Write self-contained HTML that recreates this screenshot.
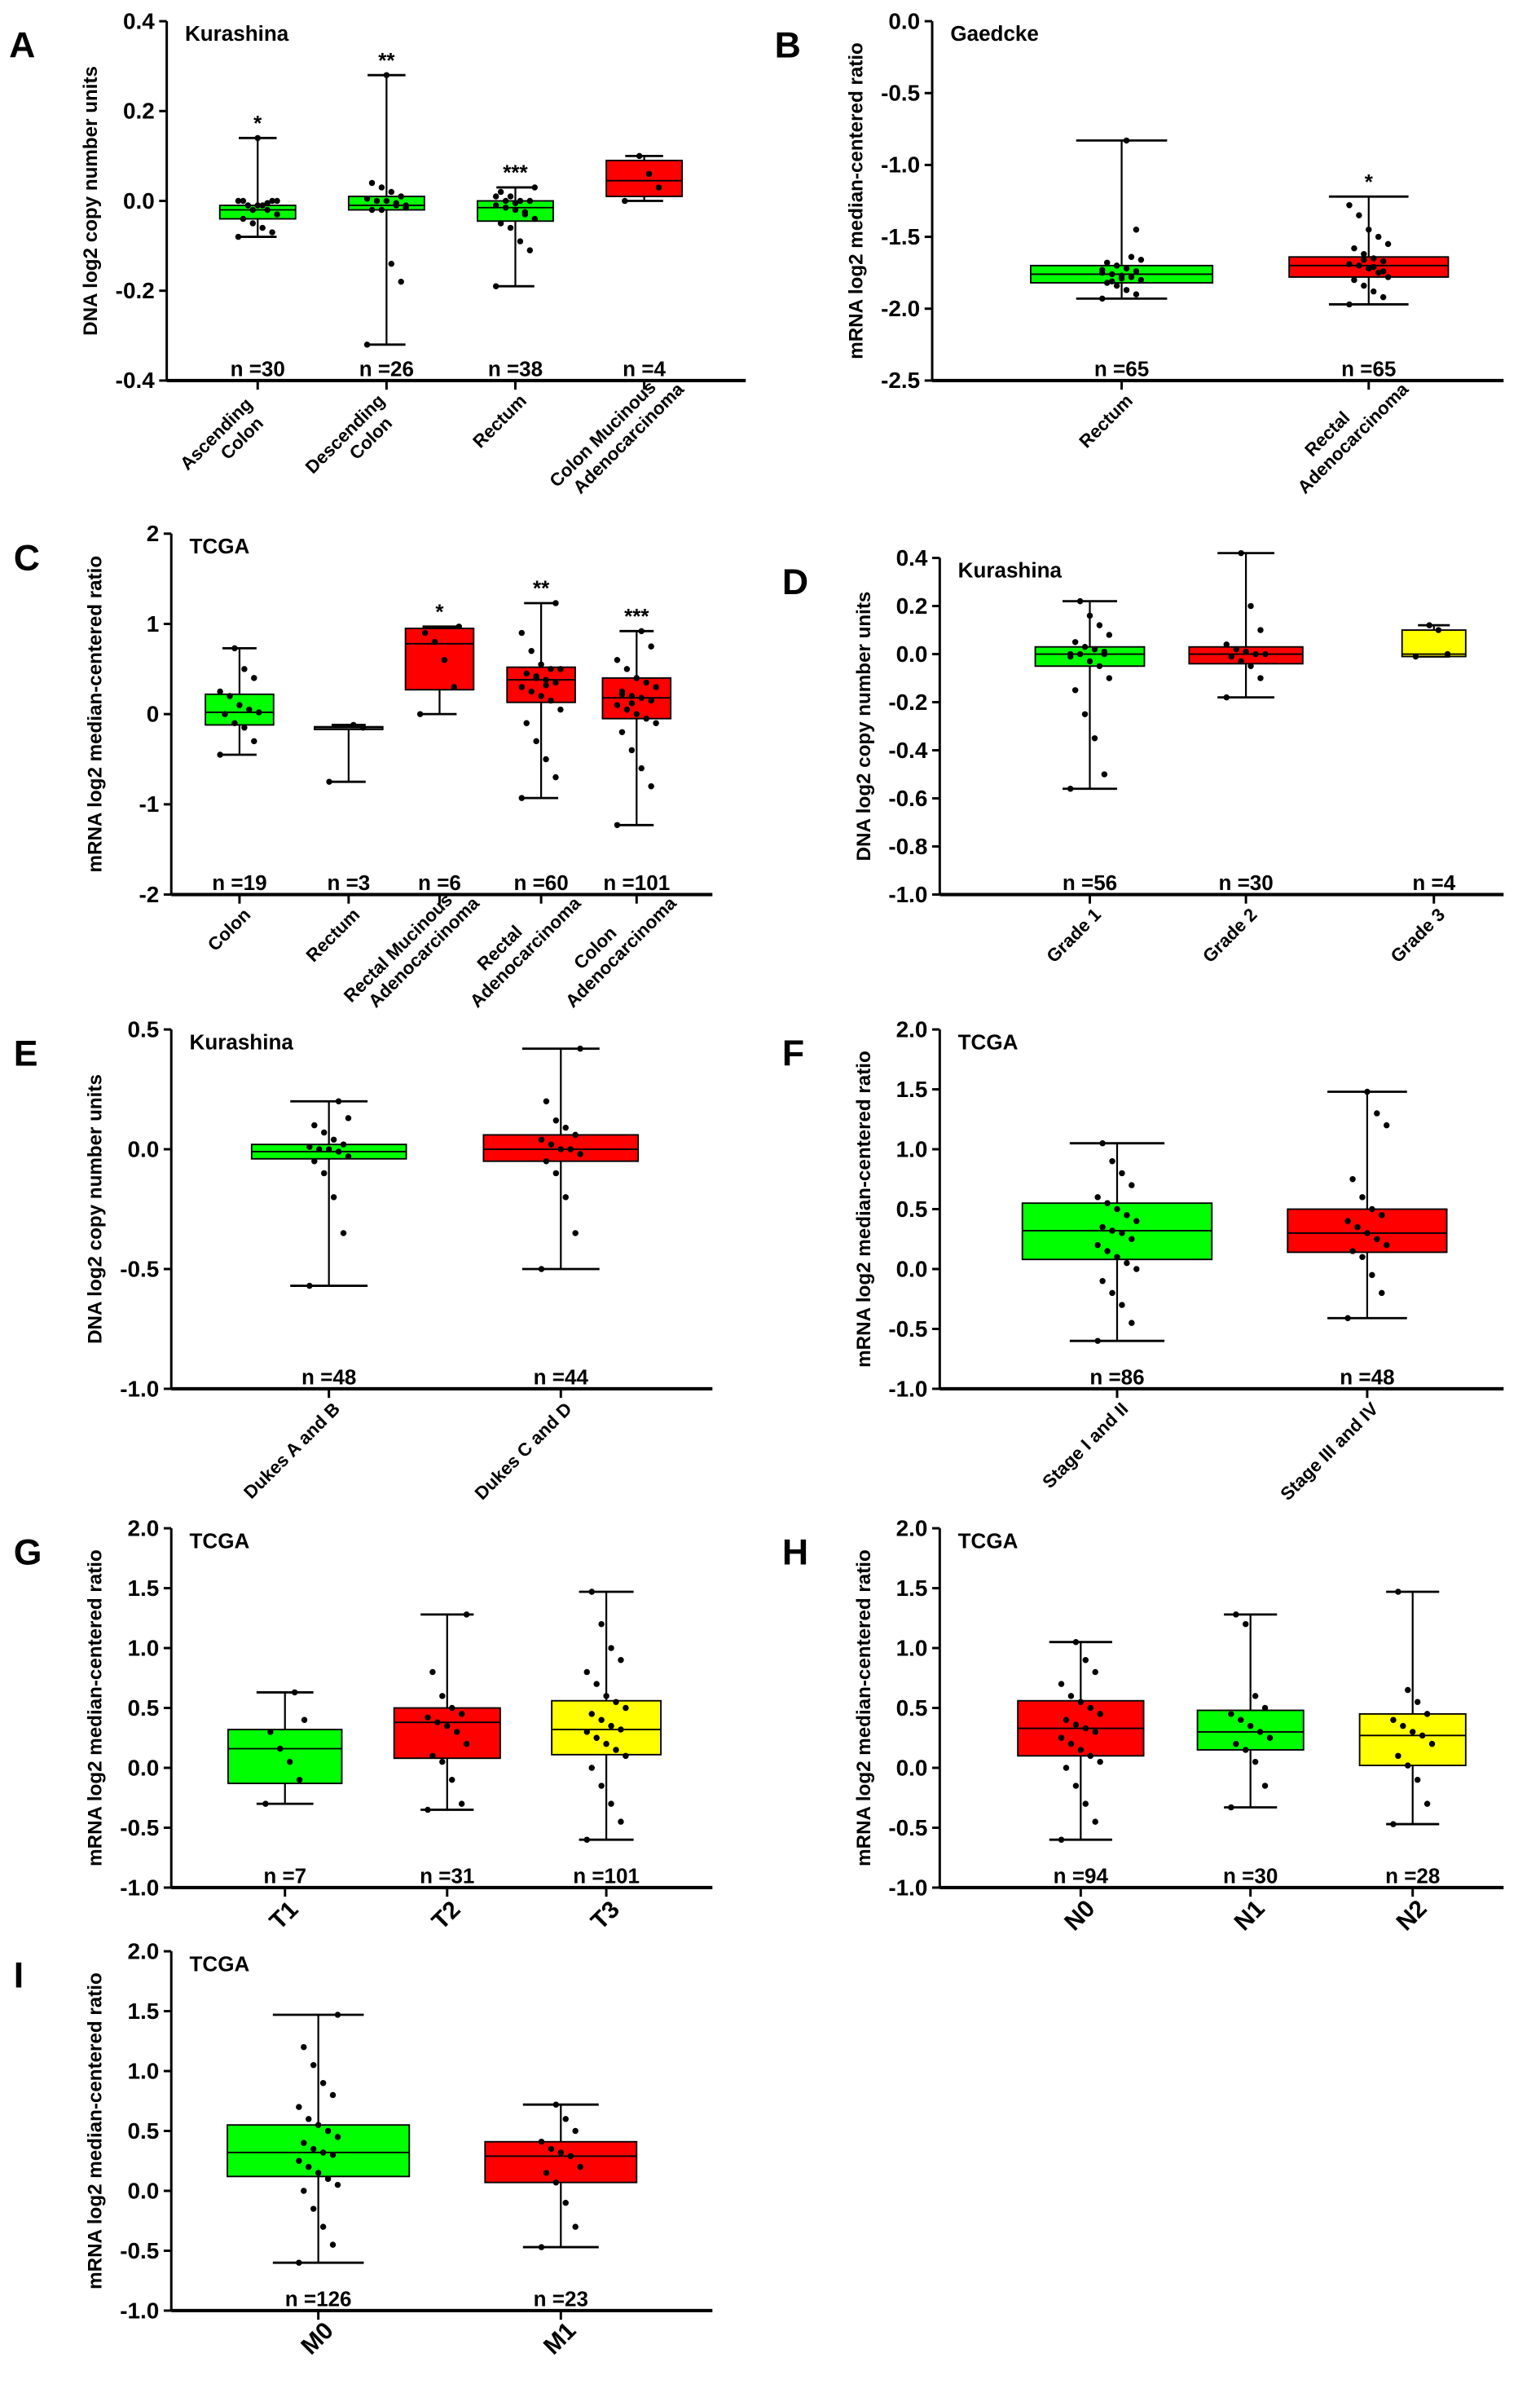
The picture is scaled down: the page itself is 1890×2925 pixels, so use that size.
<!DOCTYPE html>
<html><head><meta charset="utf-8"><style>
html,body{margin:0;padding:0;background:#fff}
svg{display:block}
text{font-family:"Liberation Sans",Arial,sans-serif;font-weight:bold;fill:#000}
</style></head><body>
<svg id="fig" width="1890" height="2925" viewBox="0 0 1016 1572.4" xmlns="http://www.w3.org/2000/svg"></svg>
<script>
// ---- data ----
const A_cats=[["Ascending","Colon"],["Descending","Colon"],["Rectum"],["Colon Mucinous","Adenocarcinoma"]];
const A_stats=[[-0.08,-0.04,-0.02,-0.01,0.14],[-0.32,-0.02,-0.01,0.01,0.28],[-0.19,-0.045,-0.015,0.0,0.03],[0.0,0.01,0.045,0.09,0.10]];
const A_n=[30,26,38,4];
const A_star=["*","**","***",""];
const A_pts=[[-0.08,-0.07,-0.06,-0.05,-0.04,-0.03,-0.02,-0.01,-0.01,0,0,-0.01,-0.02,0,0.0,-0.005,0.14],
[-0.32,-0.18,-0.14,-0.02,-0.02,-0.01,-0.01,0,0,0.005,0.01,0.02,0.03,0.04,-0.015,-0.005,0.28],
[-0.19,-0.11,-0.09,-0.06,-0.05,-0.04,-0.03,-0.02,-0.015,-0.01,0,0,0.01,0.02,0.03,-0.025,-0.005,0.0,0.01],
[0.0,0.03,0.06,0.10]];
const B_cats=[["Rectum"],["Rectal","Adenocarcinoma"]];
const B_stats=[[-1.93,-1.82,-1.76,-1.70,-0.83],[-1.97,-1.78,-1.70,-1.64,-1.22]];
const B_n=[65,65];
const B_star=["","*"];
const B_pts=[[-1.93,-1.9,-1.87,-1.84,-1.82,-1.8,-1.78,-1.77,-1.76,-1.75,-1.74,-1.72,-1.7,-1.68,-1.66,-1.64,-1.79,-1.81,-1.73,-1.45,-0.83],
[-1.97,-1.92,-1.88,-1.84,-1.8,-1.78,-1.75,-1.72,-1.7,-1.69,-1.67,-1.65,-1.62,-1.58,-1.55,-1.5,-1.45,-1.35,-1.28,-1.74,-1.71,-1.66]];
const C_cats=[["Colon"],["Rectum"],["Rectal Mucinous","Adenocarcinoma"],["Rectal","Adenocarcinoma"],["Colon","Adenocarcinoma"]];
const C_stats=[[-0.45,-0.12,0.02,0.22,0.73],[-0.75,-0.17,-0.15,-0.14,-0.12],[0.0,0.27,0.78,0.95,0.97],[-0.93,0.13,0.38,0.52,1.23],[-1.23,-0.05,0.18,0.40,0.92]];
const C_n=[19,3,6,60,101];
const C_star=["","","*","**","***"];
const C_pts=[[-0.45,-0.3,-0.15,-0.1,0,0.02,0.05,0.1,0.2,0.25,0.4,0.5,0.73],[-0.75,-0.15,-0.12],[0.0,0.3,0.6,0.8,0.9,0.97],
[-0.93,-0.7,-0.5,-0.3,-0.1,0.05,0.15,0.2,0.25,0.3,0.35,0.38,0.4,0.45,0.5,0.5,0.55,0.7,0.9,1.23,0.32,0.42],
[-1.23,-0.8,-0.6,-0.4,-0.2,-0.1,-0.05,0,0.05,0.1,0.15,0.18,0.2,0.25,0.3,0.35,0.4,0.5,0.6,0.75,0.92,0.12,0.22]];
const D_cats=[["Grade 1"],["Grade 2"],["Grade 3"]];
const D_stats=[[-0.56,-0.05,0.0,0.03,0.22],[-0.18,-0.04,0.0,0.03,0.42],[-0.01,-0.01,0.0,0.10,0.12]];
const D_n=[56,30,4];
const D_star=["","",""];
const D_pts=[[-0.56,-0.5,-0.35,-0.25,-0.15,-0.1,-0.05,-0.03,0,0,0.01,0.02,0.03,0.05,0.08,0.12,0.16,0.22,-0.01,0.0],
[-0.18,-0.1,-0.05,-0.03,-0.01,0,0,0.01,0.02,0.04,0.1,0.2,0.42],[-0.01,0.0,0.1,0.12]];
const E_cats=[["Dukes A and B"],["Dukes C and D"]];
const E_stats=[[-0.57,-0.04,-0.01,0.02,0.20],[-0.50,-0.05,0.0,0.06,0.42]];
const E_n=[48,44];
const E_pts=[[-0.57,-0.35,-0.2,-0.1,-0.05,-0.03,-0.01,0,0,0.01,0.02,0.04,0.07,0.1,0.13,0.2],
[-0.5,-0.35,-0.2,-0.1,-0.05,-0.02,0,0,0.02,0.04,0.06,0.09,0.12,0.2,0.42]];
const F_cats=[["Stage I and II"],["Stage III and IV"]];
const F_stats=[[-0.6,0.08,0.32,0.55,1.05],[-0.41,0.14,0.30,0.50,1.48]];
const F_n=[86,48];
const F_pts=[[-0.6,-0.45,-0.3,-0.2,-0.1,0,0.05,0.1,0.15,0.2,0.25,0.3,0.32,0.35,0.4,0.45,0.5,0.55,0.6,0.7,0.8,0.9,1.05],
[-0.41,-0.2,-0.05,0.1,0.15,0.2,0.25,0.3,0.35,0.4,0.45,0.5,0.6,0.75,1.2,1.3,1.48]];
const G_cats=[["T1"],["T2"],["T3"]];
const G_stats=[[-0.3,-0.13,0.16,0.32,0.63],[-0.35,0.08,0.38,0.5,1.28],[-0.6,0.11,0.32,0.56,1.47]];
const G_n=[7,31,101];
const G_pts=[[-0.3,-0.1,0.05,0.16,0.3,0.4,0.63],[-0.35,-0.3,-0.1,0.05,0.1,0.2,0.3,0.35,0.38,0.42,0.45,0.5,0.6,0.8,1.28],
[-0.6,-0.45,-0.3,-0.15,0,0.1,0.15,0.2,0.25,0.3,0.32,0.35,0.4,0.45,0.5,0.55,0.6,0.7,0.8,0.9,1.0,1.2,1.47]];
const H_cats=[["N0"],["N1"],["N2"]];
const H_stats=[[-0.6,0.1,0.33,0.56,1.05],[-0.33,0.15,0.3,0.48,1.28],[-0.47,0.02,0.27,0.45,1.47]];
const H_n=[94,30,28];
const H_pts=[[-0.6,-0.45,-0.3,-0.15,0,0.05,0.1,0.15,0.2,0.25,0.3,0.33,0.36,0.4,0.45,0.5,0.55,0.6,0.7,0.8,0.9,1.05],
[-0.33,-0.15,0.05,0.15,0.2,0.25,0.3,0.35,0.4,0.45,0.5,0.6,1.2,1.28],
[-0.47,-0.3,-0.1,0.02,0.1,0.2,0.27,0.3,0.35,0.4,0.45,0.55,0.65,1.47]];
const I_cats=[["M0"],["M1"]];
const I_stats=[[-0.6,0.12,0.32,0.55,1.47],[-0.47,0.07,0.29,0.41,0.72]];
const I_n=[126,23];
const I_pts=[[-0.6,-0.45,-0.3,-0.15,0,0.05,0.1,0.15,0.2,0.25,0.3,0.32,0.35,0.4,0.45,0.5,0.55,0.6,0.7,0.8,0.9,1.05,1.2,1.47],
[-0.47,-0.3,-0.1,0.07,0.15,0.2,0.29,0.32,0.35,0.41,0.5,0.6,0.72]];

const svg=document.getElementById('fig');
const NS="http://www.w3.org/2000/svg";
function mk(tag,attrs,parent){const e=document.createElementNS(NS,tag);for(const k in attrs)e.setAttribute(k,attrs[k]);(parent||svg).appendChild(e);return e;}
const GR="#00ff00",RD="#ff0000",YL="#ffff00";

function panel(cfg){
  const g=mk('g',{});
  
  
  const y=v=>cfg.y0+(cfg.ymax-v)/(cfg.ymax-cfg.ymin)*(cfg.y1-cfg.y0);
  const L=mk('text',{x:cfg.ax-104,y:cfg.y0+24,'font-size':24},g);L.textContent=cfg.letter;
  
  const T=mk('text',{x:cfg.ax+12,y:cfg.y0+13,'font-size':14},g);T.textContent=cfg.title;
  
  const ya=mk('line',{x1:cfg.ax,y1:cfg.y0,x2:cfg.ax,y2:cfg.y1,stroke:'#000','stroke-width':1.6},g);
  
  const xa=mk('line',{x1:cfg.ax,y1:cfg.y1,x2:cfg.axEnd,y2:cfg.y1,stroke:'#000','stroke-width':2.2},g);
  
  cfg.ticks.forEach(t=>{
    mk('line',{x1:cfg.ax-5,y1:y(t),x2:cfg.ax,y2:y(t),stroke:'#000','stroke-width':1.6},g);
    const tl=mk('text',{x:cfg.ax-8,y:y(t)+5,'font-size':15,'text-anchor':'end'},g);
    tl.textContent=cfg.fmt(t);
    
  });
  const yl=mk('text',{x:0,y:0,'font-size':13,'text-anchor':'middle',transform:`translate(${cfg.ax-46},${(cfg.y0+cfg.y1)/2}) rotate(-90)`},g);
  yl.textContent=cfg.ylabel;
  
  cfg.stats.forEach((s,i)=>{
    const cx=cfg.cx[i],w=cfg.w[i],col=cfg.colors[i];
    const bg=mk('g',{},g);
    
    mk('line',{x1:cx,y1:y(s[0]),x2:cx,y2:y(s[4]),stroke:'#000','stroke-width':1.2},bg);
    mk('line',{x1:cx-w/4,y1:y(s[0]),x2:cx+w/4,y2:y(s[0]),stroke:'#000','stroke-width':1.5},bg);
    mk('line',{x1:cx-w/4,y1:y(s[4]),x2:cx+w/4,y2:y(s[4]),stroke:'#000','stroke-width':1.5},bg);
    mk('rect',{x:cx-w/2,y:y(s[3]),width:w,height:Math.max(1,y(s[1])-y(s[3])),fill:col,stroke:'#000','stroke-width':1},bg);
    mk('line',{x1:cx-w/2,y1:y(s[2]),x2:cx+w/2,y2:y(s[2]),stroke:'#000','stroke-width':1},bg);
    (cfg.pts[i]||[]).forEach((v,j)=>{
      const off=((j*7)%9-4)*Math.min(3.2,w/14);
      mk('circle',{cx:cx+off,cy:y(v),r:2,fill:'#000'},bg);
    });
    if(cfg.star&&cfg.star[i]){const st=mk('text',{x:cx,y:y(s[4])-5,'font-size':14,'text-anchor':'middle'},g);st.textContent=cfg.star[i];
      }
    const nl=mk('text',{x:cx,y:cfg.y1-3,'font-size':14,'text-anchor':'middle'},g);nl.textContent='n ='+cfg.n[i];
    
    mk('line',{x1:cx,y1:cfg.y1,x2:cx,y2:cfg.y1+6,stroke:'#000','stroke-width':1.6},g);
    const lines=cfg.cats[i];
    const ct=mk('text',{'font-size':cfg.big?16:12,'text-anchor':cfg.big?'middle':'end',transform:cfg.big?`translate(${cfg.cx[i]+3},${cfg.y1+22}) rotate(-45)`:`translate(${cx+8},${cfg.y1+14}) rotate(-45)`},g);
    
    lines.forEach((ln,k)=>{const ts=mk('tspan',{x:0,dy:k==0?(lines.length>1?-6:0):14},ct);ts.textContent=ln;
      if(lines.length>1){ts.setAttribute('text-anchor','middle');ts.setAttribute('x',k==0?-40:-30);}});
  });
}
const f1=t=>t.toFixed(1);
panel({letter:'A',title:'Kurashina',ax:110,axEnd:492,y0:14,y1:251,ymin:-0.4,ymax:0.4,ticks:[0.4,0.2,0,-0.2,-0.4],fmt:f1,
 ylabel:'DNA log2 copy number units',cx:[170,255,340,425],w:[50,50,50,50],colors:[GR,GR,GR,RD],stats:A_stats,pts:A_pts,n:A_n,star:A_star,cats:A_cats});
panel({letter:'B',title:'Gaedcke',ax:615,axEnd:992,y0:14,y1:251,ymin:-2.5,ymax:0,ticks:[0,-0.5,-1,-1.5,-2,-2.5],fmt:f1,
 ylabel:'mRNA log2 median-centered ratio',cx:[740,903],w:[120,105],colors:[GR,RD],stats:B_stats,pts:B_pts,n:B_n,star:B_star,cats:B_cats});
panel({letter:'C',title:'TCGA',ax:113,axEnd:470,y0:352,y1:590,ymin:-2,ymax:2,ticks:[2,1,0,-1,-2],fmt:t=>String(t),
 ylabel:'mRNA log2 median-centered ratio',cx:[158,230,290,357,420],w:[45,45,45,45,45],colors:[GR,'#fff',RD,RD,RD],stats:C_stats,pts:C_pts,n:C_n,star:C_star,cats:C_cats});
panel({letter:'D',title:'Kurashina',ax:620,axEnd:992,y0:368,y1:590,ymin:-1,ymax:0.4,ticks:[0.4,0.2,0,-0.2,-0.4,-0.6,-0.8,-1.0],fmt:f1,
 ylabel:'DNA log2 copy number units',cx:[719,822,946],w:[72,75,42],colors:[GR,RD,YL],stats:D_stats,pts:D_pts,n:D_n,star:D_star,cats:D_cats});
panel({letter:'E',title:'Kurashina',ax:113,axEnd:470,y0:679,y1:916,ymin:-1,ymax:0.5,ticks:[0.5,0,-0.5,-1],fmt:f1,
 ylabel:'DNA log2 copy number units',cx:[217,370],w:[102,102],colors:[GR,RD],stats:E_stats,pts:E_pts,n:E_n,cats:E_cats});
panel({letter:'F',title:'TCGA',ax:620,axEnd:992,y0:679,y1:916,ymin:-1,ymax:2,ticks:[2,1.5,1,0.5,0,-0.5,-1],fmt:f1,
 ylabel:'mRNA log2 median-centered ratio',cx:[737,902],w:[125,105],colors:[GR,RD],stats:F_stats,pts:F_pts,n:F_n,cats:F_cats});
panel({letter:'G',title:'TCGA',ax:113,axEnd:470,y0:1008,y1:1245,ymin:-1,ymax:2,ticks:[2,1.5,1,0.5,0,-0.5,-1],fmt:f1,big:true,
 ylabel:'mRNA log2 median-centered ratio',cx:[188,295,400],w:[75,70,72],colors:[GR,RD,YL],stats:G_stats,pts:G_pts,n:G_n,cats:G_cats});
panel({letter:'H',title:'TCGA',ax:620,axEnd:992,y0:1008,y1:1245,ymin:-1,ymax:2,ticks:[2,1.5,1,0.5,0,-0.5,-1],fmt:f1,big:true,
 ylabel:'mRNA log2 median-centered ratio',cx:[713,825,932],w:[83,70,70],colors:[RD,GR,YL],stats:H_stats,pts:H_pts,n:H_n,cats:H_cats});
panel({letter:'I',title:'TCGA',ax:113,axEnd:470,y0:1287,y1:1524,ymin:-1,ymax:2,ticks:[2,1.5,1,0.5,0,-0.5,-1],fmt:f1,big:true,
 ylabel:'mRNA log2 median-centered ratio',cx:[210,370],w:[120,100],colors:[GR,RD],stats:I_stats,pts:I_pts,n:I_n,cats:I_cats});
</script>
</body></html>
